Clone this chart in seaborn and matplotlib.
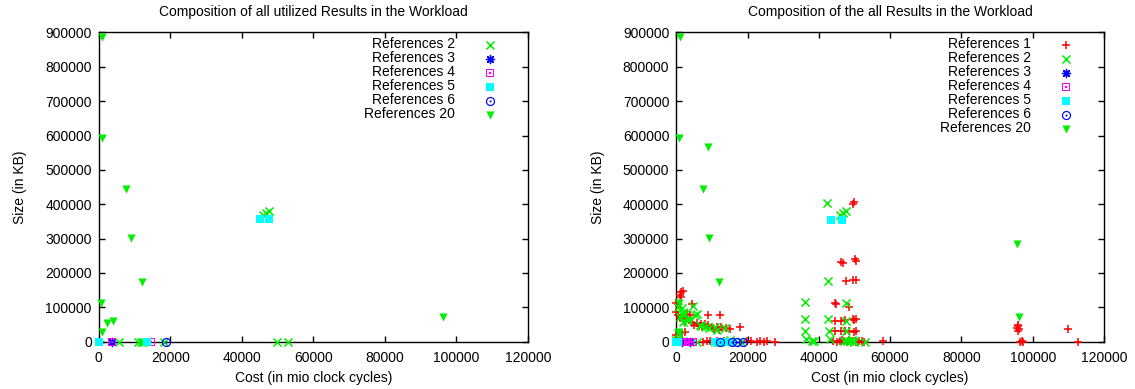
import warnings
warnings.filterwarnings("ignore")
import numpy as np
import pandas as pd
import matplotlib
matplotlib.use("Agg")
import matplotlib.pyplot as plt
from matplotlib.path import Path
import seaborn as sns

# ---------------- data ----------------
x_ticks = [0, 20000, 40000, 60000, 80000, 100000, 120000]
y_ticks = [0, 100000, 200000, 300000, 400000, 500000, 600000, 700000, 800000, 900000]

title_left = "Composition of all utilized Results in the Workload"
title_right = "Composition of the all Results in the Workload"
x_label = "Cost (in mio clock cycles)"
y_label = "Size (in KB)"

# left panel: utilized results
u_ref2_x = [5750, 11000, 11800, 12400, 18200, 49800, 52900, 46000, 46800, 47500]
u_ref2_y = [0, 0, 0, 0, 0, 0, 0, 368000, 374000, 379000]
u_ref3_x = [3800]
u_ref3_y = [0]
u_ref4_x = [0, 3800, 14500]
u_ref4_y = [0, 0, 0]
u_ref5_x = [0, 13600, 45000, 47500]
u_ref5_y = [0, 0, 356000, 356000]
u_ref6_x = [18900]
u_ref6_y = [0]
u_ref20_x = [1000, 800, 7500, 9100, 12000, 640, 2200, 3900, 840, 96200]
u_ref20_y = [888000, 593000, 444000, 302000, 174500, 113000, 53500, 61000, 29000, 70900]

# right panel: all results
a_ref1_x = [1300, 1800, 1100, 1300, 0, 600, 0, 500, 1000, 1800, 2600, 4500, 3000, 4000, 9000, 12300,
            5800, 6900, 8000, 9000, 4500, 5000,
            6300, 7200, 9900, 11500, 12600, 14100, 15200, 10500, 12000,
            17900, 2500, 1500, 0,
            0, 1500, 7600, 8500, 9500, 10500, 11500, 12500, 13500, 19800, 21000, 22600, 23500, 24500, 25400, 27700,
            50000, 49600, 46100, 46800, 50200, 50300, 47500, 49600, 50500,
            44500, 44700, 48600,
            44500, 46300, 47300, 49600, 50500, 50000,
            44500, 46300, 47300, 48600, 50500, 49800,
            44000, 45000, 46000, 47000, 48000, 48500, 49500, 50500, 51200, 52000, 52800, 46500, 58000,
            95800, 96000, 95700, 96100, 95900, 96500, 97000, 97300, 110000, 112600]
a_ref1_y = [145000, 148000, 136000, 129000, 112000, 111000, 87000, 78000, 68000, 66000, 68000, 111000, 80000, 78000, 78000, 78000,
            53500, 52000, 51000, 50000, 55000, 50000,
            46000, 47000, 44000, 43000, 42000, 40000, 38000, 36000, 33000,
            43600, 29000, 24400, 20000,
            0, 2000, 0, 3000, 1000, 0, 2000, 0, 1000, 1000, 3000, 0, 2000, 0, 1000, 0,
            407000, 400000, 231700, 228800, 241600, 233800, 176000, 180300, 178200,
            111600, 109000, 102300,
            61400, 61400, 63000, 66300, 66300, 62000,
            30100, 30100, 30000, 31000, 32000, 29000,
            2000, 0, 3000, 1000, 0, 4000, 2000, 0, 3000, 1000, 0, 5000, 1000,
            50000, 45000, 40000, 36000, 32000, 0, 3000, 0, 37000, 0]

a_ref2_x = [5750, 11000, 11800, 12400, 18200, 49800, 52900, 46000, 46800, 47500,
            42400, 42600, 36000, 47700, 36000, 42600, 47700, 36200, 42800, 47700,
            36500, 38000, 38600, 43000, 48000, 48800, 49300, 50000, 47200,
            600, 1500, 4700, 2000, 1500, 2500, 5700, 5200, 3400, 2000, 1000,
            6900, 6700, 8000, 9300, 10900, 11300, 13700, 1000, 500, 0, 2000, 15000]
a_ref2_y = [0, 0, 0, 0, 0, 0, 0, 368000, 374000, 379000,
            404000, 178000, 115000, 113000, 66000, 66000, 61000, 30000, 30000, 30000,
            8000, 1000, 3000, 8000, 3000, 1000, 4000, 2000, 2000,
            101000, 97000, 105000, 87000, 82000, 82000, 82000, 77000, 63000, 58000, 72000,
            46000, 48500, 43000, 39000, 42000, 34000, 41000, 20000, 25000, 5000, 2000, 5000]
a_ref3_x = [1500, 3900]
a_ref3_y = [0, 0]
a_ref4_x = [0, 800, 1600, 2400, 3200, 3900, 4600, 14500]
a_ref4_y = [0, 0, 0, 0, 0, 0, 0, 0]
a_ref5_x = [0, 500, 11000, 12500, 14000, 15500, 43500, 46600]
a_ref5_y = [0, 0, 0, 0, 0, 0, 355600, 355600]
a_ref6_x = [12300, 15600, 17000, 18800]
a_ref6_y = [0, 0, 0, 0]
a_ref20_x = [1000, 800, 9000, 7500, 9100, 12000, 640, 2200, 3900, 840, 96200, 95500]
a_ref20_y = [888000, 593000, 566000, 444000, 302000, 174500, 113000, 53500, 61000, 29000, 70900, 284000]

# ---------------- markers ----------------
def ring_marker(kind):
    if kind == "square":
        outer = [(-1, -1), (1, -1), (1, 1), (-1, 1)]
        inner = [(-0.74, -0.74), (-0.74, 0.74), (0.74, 0.74), (0.74, -0.74)]
    else:
        t = np.linspace(0, 2 * np.pi, 33)[:-1]
        outer = list(zip(np.cos(t), np.sin(t)))
        inner = list(zip(0.74 * np.cos(-t), 0.74 * np.sin(-t)))
    d = 0.2
    dot = [(-d, -d), (d, -d), (d, d), (-d, d)]
    verts, codes = [], []
    for poly in (outer, inner, dot):
        verts += list(poly) + [poly[0]]
        codes += [Path.MOVETO] + [Path.LINETO] * (len(poly) - 1) + [Path.CLOSEPOLY]
    return Path(verts, codes)

STYLE = {
    "References 1": dict(color="#ff0000", marker="+", s=40, lw=1.1, kind="line"),
    "References 2": dict(color="#00ee00", marker="x", s=34, lw=1.1, kind="line"),
    "References 3": dict(color="#0000ff", marker=(8, 2, 0), s=34, lw=1.0, kind="line"),
    "References 4": dict(color="#ff00ff", marker=ring_marker("square"), s=40, lw=0, kind="fill"),
    "References 5": dict(color="#00ffff", marker="s", s=34, lw=0, kind="fill"),
    "References 6": dict(color="#0000ff", marker=ring_marker("circle"), s=44, lw=0, kind="fill"),
    "References 20": dict(color="#00ee00", marker="v", s=34, lw=0, kind="fill"),
}

left_series = [
    ("References 2", u_ref2_x, u_ref2_y),
    ("References 3", u_ref3_x, u_ref3_y),
    ("References 4", u_ref4_x, u_ref4_y),
    ("References 5", u_ref5_x, u_ref5_y),
    ("References 6", u_ref6_x, u_ref6_y),
    ("References 20", u_ref20_x, u_ref20_y),
]
right_series = [
    ("References 1", a_ref1_x, a_ref1_y),
    ("References 2", a_ref2_x, a_ref2_y),
    ("References 3", a_ref3_x, a_ref3_y),
    ("References 4", a_ref4_x, a_ref4_y),
    ("References 5", a_ref5_x, a_ref5_y),
    ("References 6", a_ref6_x, a_ref6_y),
    ("References 20", a_ref20_x, a_ref20_y),
]

# ---------------- style ----------------
sns.set_theme(style="ticks")
plt.rcParams["font.family"] = ["Liberation Sans", "DejaVu Sans"]
plt.rcParams["font.size"] = 10
plt.rcParams["text.color"] = "black"
plt.rcParams["axes.labelcolor"] = "black"
plt.rcParams["xtick.color"] = "black"
plt.rcParams["ytick.color"] = "black"

fig = plt.figure(figsize=(11.35, 3.89), dpi=100)
ax1 = fig.add_axes([0.0870, 0.1216, 0.3782, 0.7949])
ax2 = fig.add_axes([0.5958, 0.1216, 0.3769, 0.7949])


def draw(ax, series, title):
    for i, (label, xs, ys) in enumerate(series):
        st = STYLE[label]
        df = pd.DataFrame({"cost": xs, "size": ys})
        kw = dict(data=df, x="cost", y="size", ax=ax, label=label,
                  marker=st["marker"], s=st["s"], clip_on=False, zorder=3 + i)
        if st["kind"] == "line":
            kw.update(color=st["color"], linewidth=st["lw"])
        else:
            kw.update(color=st["color"], edgecolor=st["color"], linewidth=0)
        sns.scatterplot(**kw)
    ax.set_xlim(0, 120000)
    ax.set_ylim(0, 900000)
    ax.set_xticks(x_ticks)
    ax.set_yticks(y_ticks)
    ax.set_xticklabels([str(v) for v in x_ticks])
    ax.set_yticklabels([str(v) for v in y_ticks])
    ax.tick_params(direction="in", top=True, right=True, length=4, width=1,
                   labelsize=10, colors="black")
    ax.tick_params(axis="x", pad=7)
    ax.tick_params(axis="y", pad=5)
    for sp in ax.spines.values():
        sp.set_visible(True)
        sp.set_linewidth(1.0)
        sp.set_color("black")
    ax.set_title(title, fontsize=10, pad=12)
    ax.set_xlabel(x_label, fontsize=10, labelpad=4)
    ax.set_ylabel(y_label, fontsize=10, labelpad=13)
    ax.legend(loc="upper right", bbox_to_anchor=(0.943, 0.984), frameon=False,
              markerfirst=False, borderaxespad=0, borderpad=0, labelspacing=0.0,
              handletextpad=1.5, handlelength=2.0, fontsize=10, scatterpoints=1)


draw(ax1, left_series, title_left)
draw(ax2, right_series, title_right)

fig.savefig("out.png", dpi=100)
